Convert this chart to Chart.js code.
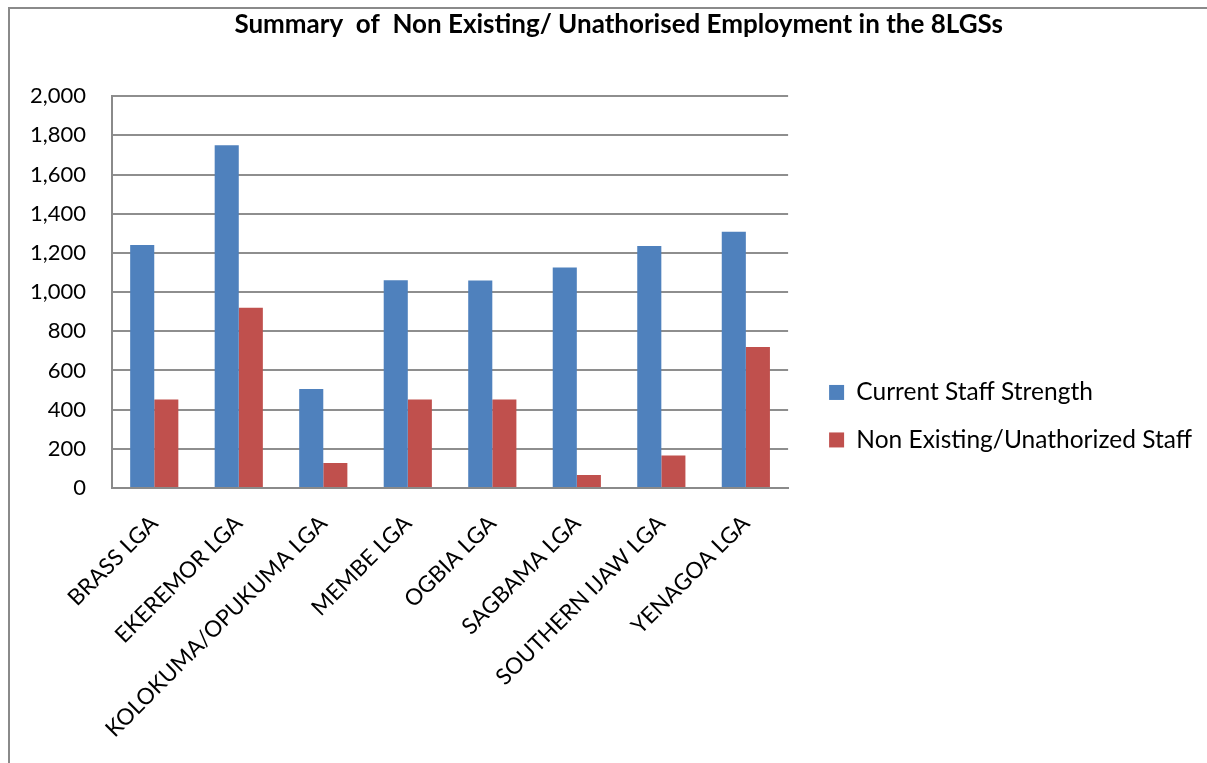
<!DOCTYPE html>
<html>
<head>
<meta charset="utf-8">
<script src="https://cdn.jsdelivr.net/npm/chart.js@4.4.0/dist/chart.umd.min.js"></script>
<style>
  html, body { margin: 0; padding: 0; background: #fff; overflow: hidden; }
  #frame {
    position: absolute; left: 8px; top: 7px;
    width: 1199px; height: 756px;
    border-left: 2px solid #8a8a8a; border-top: 2px solid #8a8a8a;
    box-sizing: border-box;
  }
  #wrap { position: absolute; left: 0; top: 0; width: 1197px; height: 754px; }
</style>
</head>
<body>
<div id="frame"><div id="wrap"><canvas id="barChart"></canvas></div></div>
<script>
const lgaLabels = ['BRASS LGA', 'EKEREMOR LGA', 'KOLOKUMA/OPUKUMA LGA', 'MEMBE LGA', 'OGBIA LGA', 'SAGBAMA LGA', 'SOUTHERN IJAW LGA', 'YENAGOA LGA'];
const currentStaff = [1240, 1749, 505, 1060, 1059, 1125, 1235, 1308];
const nonExistingStaff = [452, 920, 127, 452, 452, 66, 166, 720];
const yTicks = [0, 200, 400, 600, 800, 1000, 1200, 1400, 1600, 1800, 2000];

Chart.defaults.font.family = 'Lato, "Open Sans", sans-serif';
Chart.defaults.color = '#000';

// title sits a little right of the canvas centre in the original, pad it with nbsp
const titleText = '\u00a0'.repeat(4) + 'Summary  of  Non Existing/ Unathorised Employment in the 8LGSs';

const ctx = document.getElementById('barChart').getContext('2d');
new Chart(ctx, {
    type: 'bar',
    data: {
        labels: lgaLabels,
        datasets: [{
            label: 'Current Staff Strength',
            data: currentStaff,
            backgroundColor: 'rgb(79, 129, 189)',
            categoryPercentage: 0.57,
            barPercentage: 1.0
        }, {
            label: 'Non Existing/Unathorized Staff',
            data: nonExistingStaff,
            backgroundColor: 'rgb(192, 80, 77)',
            categoryPercentage: 0.57,
            barPercentage: 1.0
        }]
    },
    options: {
        responsive: true,
        maintainAspectRatio: false,
        animation: false,
        layout: {
            padding: { left: 0, right: 5, top: 0, bottom: 0 }
        },
        plugins: {
            title: {
                display: true,
                text: titleText,
                font: { size: 26, weight: 'bold' },
                padding: { top: 0, bottom: 56 }
            },
            legend: {
                position: 'right',
                maxWidth: 500,
                title: { display: true, text: '', padding: { top: 23, bottom: 23 } },
                labels: {
                    boxWidth: 15,
                    boxHeight: 15,
                    padding: 23,
                    font: { size: 24.5 }
                }
            },
            tooltip: { enabled: false }
        },
        scales: {
            x: {
                grid: { display: false },
                border: { color: '#8a8a8a', width: 2 },
                afterFit: function(axis) { axis.height = 275; },
                ticks: {
                    minRotation: 45,
                    maxRotation: 45,
                    padding: 14,
                    font: { size: 22.5 }
                }
            },
            y: {
                min: 0,
                max: 2000,
                afterBuildTicks: function(axis) {
                    axis.ticks = yTicks.map(v => ({ value: v }));
                },
                afterFit: function(axis) { axis.width = 102; },
                grid: { color: '#8e8e8e', lineWidth: 2, drawTicks: false },
                border: { color: '#8a8a8a', width: 2 },
                ticks: {
                    padding: 26,
                    font: { size: 22 },
                    callback: function(value) {
                        return value.toLocaleString('en-US');
                    }
                }
            },
            spacer: {
                type: 'linear',
                position: 'right',
                grid: { display: false },
                border: { display: false },
                ticks: { display: false },
                afterFit: function(axis) { axis.width = 18; }
            }
        }
    }
});
</script>
</body>
</html>
